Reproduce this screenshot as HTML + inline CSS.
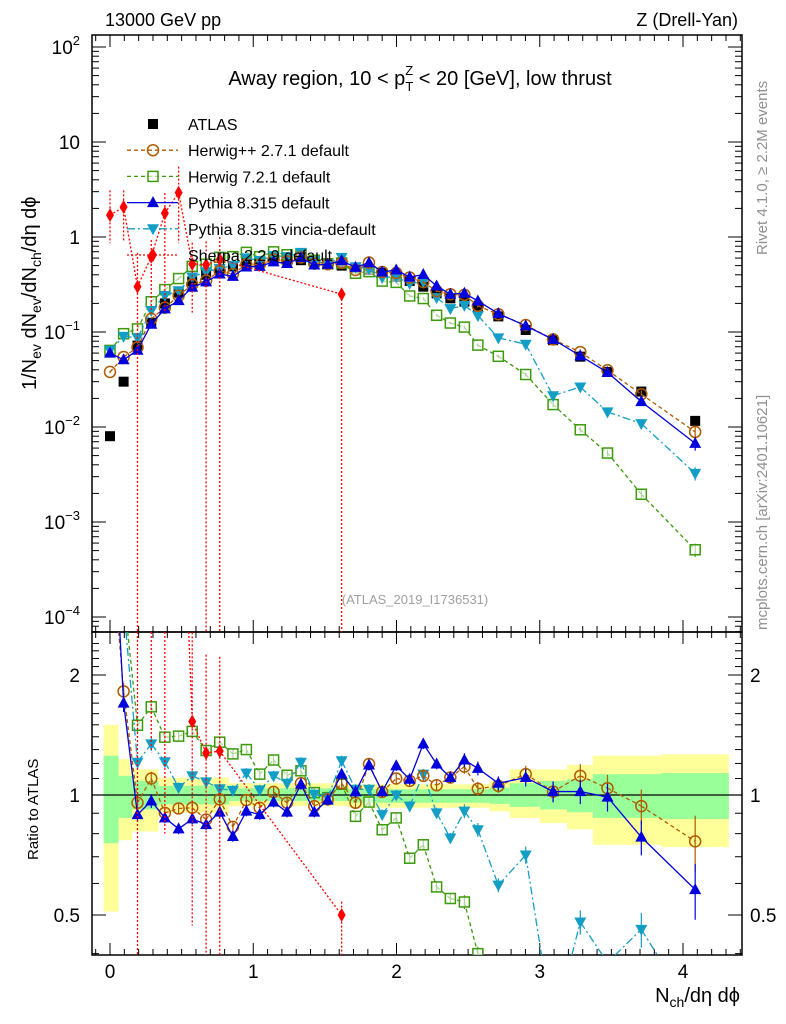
<!DOCTYPE html>
<html><head><meta charset="utf-8"><style>
html,body{margin:0;background:#fff;width:786px;height:1024px;overflow:hidden;}
svg{display:block;font-family:"Liberation Sans",sans-serif;}
</style></head><body>
<svg id="chart" width="786" height="1024" viewBox="0 0 786 1024" xmlns="http://www.w3.org/2000/svg">
<defs>
<clipPath id="clipMain"><rect x="92" y="35" width="650" height="597"/></clipPath>
<clipPath id="clipRatio"><rect x="92" y="632" width="650" height="323"/></clipPath>
</defs>
<text x="105" y="26" font-size="18">13000 GeV pp</text>
<text x="738" y="26" font-size="18" text-anchor="end">Z (Drell-Yan)</text>
<text x="420" y="85" font-size="20" text-anchor="middle">Away region, 10 &lt; p<tspan font-size="13" dy="6">T</tspan><tspan font-size="13" dx="-8" dy="-16">Z</tspan><tspan dy="10"> &lt; 20 [GeV], low thrust</tspan></text>
<text x="415" y="604" font-size="13" fill="#a0a0a0" text-anchor="middle">(ATLAS_2019_I1736531)</text>
<text transform="translate(767,255) rotate(-90)" font-size="15" fill="#909090">Rivet 4.1.0, ≥ 2.2M events</text>
<text transform="translate(767,630) rotate(-90)" font-size="15" fill="#909090">mcplots.cern.ch [arXiv:2401.10621]</text>
<text transform="translate(36,390) rotate(-90)" font-size="20">1/N<tspan font-size="14" dy="5">ev</tspan><tspan dy="-5"> dN</tspan><tspan font-size="14" dy="5">ev</tspan><tspan dy="-5">/dN</tspan><tspan font-size="14" dy="5">ch</tspan><tspan dy="-5">/dη dϕ</tspan></text>
<text transform="translate(38,860) rotate(-90)" font-size="15">Ratio to ATLAS</text>
<text x="740" y="1002" font-size="20" text-anchor="end">N<tspan font-size="14" dy="5">ch</tspan><tspan dy="-5">/dη dϕ</tspan></text>
<g id="gBands" clip-path="url(#clipRatio)"></g>
<g id="gAxes"></g>
<g id="gMain" clip-path="url(#clipMain)"></g>
<g id="gRatio" clip-path="url(#clipRatio)"></g>
<g id="gLegend"></g>
</svg>
<script>
const xs=[0,0.095,0.192,0.288,0.383,0.479,0.574,0.671,0.766,0.858,0.952,1.045,1.142,1.236,1.333,1.426,1.52,1.617,1.714,1.808,1.9,1.998,2.092,2.187,2.28,2.376,2.474,2.568,2.711,2.902,3.093,3.283,3.473,3.709,4.085];
const atlas=[0.008,0.030,0.072,0.125,0.20,0.26,0.34,0.40,0.45,0.49,0.53,0.55,0.57,0.58,0.57,0.56,0.53,0.50,0.47,0.45,0.42,0.38,0.345,0.30,0.255,0.226,0.209,0.182,0.146,0.105,0.082,0.055,0.038,0.0236,0.0116];
const herwigppRatio=[4.75,1.82,0.956,1.10,0.902,0.925,0.929,0.868,0.975,0.832,0.971,0.929,1.018,0.956,1.07,0.938,0.975,1.07,0.956,1.196,1.018,1.10,1.085,1.117,1.058,1.106,1.178,1.037,1.054,1.128,1.02,1.117,1.04,0.938,0.765];
const herwig7Ratio=[8.0,3.2,1.496,1.664,1.397,1.405,1.444,1.293,1.357,1.268,1.300,1.128,1.224,1.121,1.150,1.014,0.985,1.064,0.884,0.96,0.818,0.876,0.694,0.75,0.588,0.55,0.539,0.40,0.38,0.34,0.21,0.17,0.14,0.083,0.044];
const pythiaRatio=[7.5,1.70,0.893,0.966,0.876,0.822,0.871,0.843,0.906,0.787,0.911,0.893,0.96,0.906,1.064,0.906,0.971,1.128,1.018,1.189,1.02,1.184,1.095,1.344,1.196,1.106,1.224,1.166,1.07,1.106,1.02,1.02,0.988,0.784,0.579];
const vinciaRatio=[8.0,3.0,1.208,1.344,1.212,1.044,1.117,1.079,1.037,1.027,1.135,1.03,1.117,1.07,1.208,1.004,0.985,1.219,1.034,1.034,0.893,1.0,0.938,1.128,0.902,0.78,0.911,0.818,0.594,0.707,0.26,0.48,0.38,0.46,0.28];
const mcRelErr=[0.03,0.05,0.04,0.04,0.03,0.03,0.03,0.03,0.03,0.03,0.03,0.03,0.03,0.03,0.03,0.03,0.03,0.03,0.03,0.03,0.03,0.03,0.03,0.03,0.03,0.03,0.04,0.04,0.04,0.05,0.06,0.07,0.08,0.10,0.16];
const sherpaVals=[1.7,2.07,0.30,0.62,1.78,2.93,0.52,0.51,0.58,null,null,null,null,null,null,null,null,0.25,null,null,null,null,null,null,null,null,null,null,null,null,null,null,null,null,null];
const sherpaHi=[3.1,3.1,0.68,0.93,2.9,5.5,0.87,0.9,1.0,null,null,null,null,null,null,null,null,0.27,null,null,null,null,null,null,null,null,null,null,null,null,null,null,null,null,null];
const sherpaLo=[0.86,0.9,1e-6,0.16,0.16,0.86,0.16,1e-6,1e-6,null,null,null,null,null,null,null,null,1e-6,null,null,null,null,null,null,null,null,null,null,null,null,null,null,null,null,null];
const bandEdges=[-0.045,0.06,0.154,0.339,0.83,1.67,2.65,2.79,3.0,3.19,3.37,3.85,4.32];
const bandYUp=[1.50,1.23,1.16,1.106,1.07,1.064,1.085,1.16,1.16,1.19,1.255,1.265];
const bandYDn=[0.51,0.77,0.81,0.902,0.938,0.929,0.91,0.876,0.85,0.82,0.75,0.74];
const bandGUp=[1.255,1.117,1.085,1.054,1.04,1.034,1.044,1.07,1.085,1.095,1.128,1.135];
const bandGDn=[0.757,0.876,0.92,0.947,0.966,0.956,0.95,0.934,0.92,0.905,0.876,0.87];
const xTicks=[0,1,2,3,4];
const mainTickExp=[2,1,0,-1,-2,-3,-4];
const ratioTicks=[2,1,0.5];

const NS='http://www.w3.org/2000/svg';
const X=v=>110+143.25*v;
const Y=v=>237-95*Math.log10(v);
const R=v=>795-398.6*Math.log10(v);
const MAINBOX=[92,35,742,632], RATBOX=[92,632,742,955];
function mk(parent,tag,attrs){const e=document.createElementNS(NS,tag);for(const k in attrs)e.setAttribute(k,attrs[k]);parent.appendChild(e);return e;}
function clipSeg(x1,y1,x2,y2,b){let t0=0,t1=1;const dx=x2-x1,dy=y2-y1;
 const p=[-dx,dx,-dy,dy],q=[x1-b[0],b[2]-x1,y1-b[1],b[3]-y1];
 for(let i=0;i<4;i++){if(p[i]==0){if(q[i]<0)return null;}else{const t=q[i]/p[i];if(p[i]<0){if(t>t1)return null;if(t>t0)t0=t;}else{if(t<t0)return null;if(t<t1)t1=t;}}}
 return [x1+t0*dx,y1+t0*dy,x1+t1*dx,y1+t1*dy];}
function pathD(pts,b){let d='';for(let i=0;i<pts.length-1;i++){const s=clipSeg(pts[i][0],pts[i][1],pts[i+1][0],pts[i+1][1],b);if(s)d+=`M${s[0].toFixed(2)},${s[1].toFixed(2)}L${s[2].toFixed(2)},${s[3].toFixed(2)}`;}return d||'M0,0';}
const cl=(v,b)=>Math.min(Math.max(v,b[1]),b[3]);
const inside=(y,b)=>y>=b[1]-3&&y<=b[3]+3;
const gA=document.getElementById('gAxes'),gM=document.getElementById('gMain'),gR=document.getElementById('gRatio'),gB=document.getElementById('gBands'),gL=document.getElementById('gLegend');

for(let i=0;i<bandYUp.length;i++){
 let y=mk(gB,'rect',{x:X(bandEdges[i]),y:R(bandYUp[i]),width:X(bandEdges[i+1])-X(bandEdges[i]),height:R(bandYDn[i])-R(bandYUp[i]),fill:'#ffff99'});
 
 
 let g=mk(gB,'rect',{x:X(bandEdges[i]),y:R(bandGUp[i]),width:X(bandEdges[i+1])-X(bandEdges[i]),height:R(bandGDn[i])-R(bandGUp[i]),fill:'#99ff99'});
 
 
}
const fm=mk(gA,'rect',{x:92,y:35,width:650,height:597,fill:'none',stroke:'#000','stroke-width':1.5});


const fr=mk(gA,'rect',{x:92,y:632,width:650,height:323,fill:'none',stroke:'#000','stroke-width':1.5});


const one=mk(gA,'line',{x1:92,x2:742,y1:R(1),y2:R(1),stroke:'#000','stroke-width':1.2});


for(let t=-0.1;t<=4.4;t+=0.1){const tt=Math.round(t*10)/10;const major=Math.abs(tt-Math.round(tt))<1e-6;const L=major?12:6;const px=X(tt);if(px<92||px>742)continue;
 for(const [yb,dir] of [[632,-1],[35,1],[955,-1],[632,1]]){mk(gA,'line',{x1:px,x2:px,y1:yb,y2:yb+dir*L,stroke:'#000','stroke-width':1});}}
xTicks.forEach(t=>{const e=mk(gA,'text',{x:X(t),y:978,'font-size':19,'text-anchor':'middle'});e.textContent=t;
 
 });
for(let ex=-5;ex<=2;ex++){for(let m=1;m<10;m++){const v=m*Math.pow(10,ex);const py=Y(v);if(py<35||py>632)continue;const L=m==1?14:7;
 mk(gA,'line',{x1:92,x2:92+L,y1:py,y2:py,stroke:'#000'});mk(gA,'line',{x1:742,x2:742-L,y1:py,y2:py,stroke:'#000'});}}
mainTickExp.forEach(ex=>{const e=mk(gA,'text',{x:80,y:Y(Math.pow(10,ex))+7,'font-size':19,'text-anchor':'end'});
 if(ex==0)e.textContent='1';else if(ex==1)e.textContent='10';else{e.textContent='10';const s=mk(e,'tspan',{dy:-9,'font-size':13});s.textContent=String(ex).replace('-','−');}
 
 });
for(let v=0.4;v<=2.5;v+=0.1){const vv=Math.round(v*10)/10;const py=R(vv);if(py<632||py>955)continue;const L=(vv==0.5||vv==1||vv==2)?14:7;
 mk(gA,'line',{x1:92,x2:92+L,y1:py,y2:py,stroke:'#000'});mk(gA,'line',{x1:742,x2:742-L,y1:py,y2:py,stroke:'#000'});}
ratioTicks.forEach(t=>{const a=mk(gA,'text',{x:80,y:R(t)+7,'font-size':19,'text-anchor':'end'});a.textContent=t;
 
 
 const b=mk(gA,'text',{x:750,y:R(t)+7,'font-size':19});b.textContent=t;
 
 });

function marker(g,type,cx,cy,col){let e;const s=5;
 if(type=='sqf')e=mk(g,'rect',{x:cx-s,y:cy-s,width:2*s,height:2*s,fill:'#000'});
 else if(type=='sqo')e=mk(g,'rect',{x:cx-s,y:cy-s,width:2*s,height:2*s,fill:'#fff','fill-opacity':0.6,stroke:col,'stroke-width':1.5});
 else if(type=='cir')e=mk(g,'circle',{cx:cx,cy:cy,r:5.5,fill:'none',stroke:col,'stroke-width':1.5});
 else if(type=='tu')e=mk(g,'polygon',{points:`${cx},${cy-6.5} ${cx-6},${cy+4.5} ${cx+6},${cy+4.5}`,fill:col});
 else if(type=='td')e=mk(g,'polygon',{points:`${cx},${cy+6.5} ${cx-6},${cy-4.5} ${cx+6},${cy-4.5}`,fill:col});
 else if(type=='dia')e=mk(g,'polygon',{points:`${cx},${cy-7} ${cx-4},${cy} ${cx},${cy+7} ${cx+4},${cy}`,fill:col});
 return e;}

const series=[
 {name:'herwig7',ratio:herwig7Ratio,col:'#3c9a0c',dash:'4,3',m:'sqo'},
 {name:'vincia',ratio:vinciaRatio,col:'#139ec6',dash:'8,3,2,3',m:'td'},
 {name:'herwigpp',ratio:herwigppRatio,col:'#b05a00',dash:'4,3',m:'cir'},
 {name:'pythia',ratio:pythiaRatio,col:'#0000dd',dash:'none',m:'tu'}];

atlas.forEach((v,i)=>{const e=marker(gM,'sqf',X(xs[i]),Y(v),'#000');
 
 });

series.forEach(s=>{
 const mainVals=s.ratio.map((r,i)=>r*atlas[i]);
 const pm=mk(gM,'path',{d:pathD(mainVals.map((v,i)=>[X(xs[i]),Y(v)]),MAINBOX),fill:'none',stroke:s.col,'stroke-width':1.3,'stroke-dasharray':s.dash});
 
 
 const pr=mk(gR,'path',{d:pathD(s.ratio.map((v,i)=>[X(xs[i]),R(v)]),RATBOX),fill:'none',stroke:s.col,'stroke-width':1.3,'stroke-dasharray':s.dash});
 
 
 mainVals.forEach((v,i)=>{const err=mcRelErr[i];
  if(inside(Y(v),MAINBOX)){
   const eb=mk(gM,'line',{x1:X(xs[i]),x2:X(xs[i]),y1:cl(Y(v*(1+err)),MAINBOX),y2:cl(Y(v*(1-err)),MAINBOX),stroke:s.col,'stroke-width':1.2});
   
   
   const e=marker(gM,s.m,X(xs[i]),Y(v),s.col);
   
   }
  const r=s.ratio[i];
  if(inside(R(r),RATBOX)){
   const er=mk(gR,'line',{x1:X(xs[i]),x2:X(xs[i]),y1:cl(R(r*(1+err)),RATBOX),y2:cl(R(r*(1-err)),RATBOX),stroke:s.col,'stroke-width':1.2});
   
   
   const e2=marker(gR,s.m,X(xs[i]),R(r),s.col);
   
   }});
});

const sIdx=sherpaVals.map((v,i)=>v==null?-1:i).filter(i=>i>=0);
const sm=mk(gM,'path',{d:pathD(sIdx.map(i=>[X(xs[i]),Y(sherpaVals[i])]),MAINBOX),fill:'none',stroke:'#ff0000','stroke-width':1.3,'stroke-dasharray':'2,2'});


const sr=mk(gR,'path',{d:pathD(sIdx.map(i=>[X(xs[i]),R(sherpaVals[i]/atlas[i])]),RATBOX),fill:'none',stroke:'#ff0000','stroke-width':1.3,'stroke-dasharray':'2,2'});


sIdx.forEach(i=>{
 const eb=mk(gM,'line',{x1:X(xs[i]),x2:X(xs[i]),y1:cl(Y(sherpaHi[i]),MAINBOX),y2:cl(Y(sherpaLo[i]),MAINBOX),stroke:'#ff0000','stroke-width':1.3,'stroke-dasharray':'2,2'});
 
 
 const e=marker(gM,'dia',X(xs[i]),Y(sherpaVals[i]),'#ff0000');
 
 
 const hiR=R(sherpaHi[i]/atlas[i]),loR=R(sherpaLo[i]/atlas[i]);
 if(loR>RATBOX[1]&&hiR<RATBOX[3]){
  const er=mk(gR,'line',{x1:X(xs[i]),x2:X(xs[i]),y1:cl(hiR,RATBOX),y2:cl(loR,RATBOX),stroke:'#ff0000','stroke-width':1.3,'stroke-dasharray':'2,2'});
  
  }
 const rr=R(sherpaVals[i]/atlas[i]);
 if(inside(rr,RATBOX)){
  const e2=marker(gR,'dia',X(xs[i]),rr,'#ff0000');
  
  }});

const leg=[['ATLAS','sqf','#000',null],['Herwig++ 2.7.1 default','cir','#b05a00','4,3'],['Herwig 7.2.1 default','sqo','#3c9a0c','4,3'],['Pythia 8.315 default','tu','#0000dd','none'],['Pythia 8.315 vincia-default','td','#139ec6','8,3,2,3'],['Sherpa 2.2.9 default','dia','#ff0000','2,2']];
leg.forEach((l,k)=>{const y=124+k*26.2;
 const g=mk(gL,'g',{});
 
 
 if(l[3])mk(g,'line',{x1:127,x2:178,y1:y,y2:y,stroke:l[2],'stroke-width':1.3,'stroke-dasharray':l[3]});
 marker(g,l[1],153,y,l[2]);
 const t=mk(g,'text',{x:188,y:y+6,'font-size':16});t.textContent=l[0];});
</script>
</body></html>
